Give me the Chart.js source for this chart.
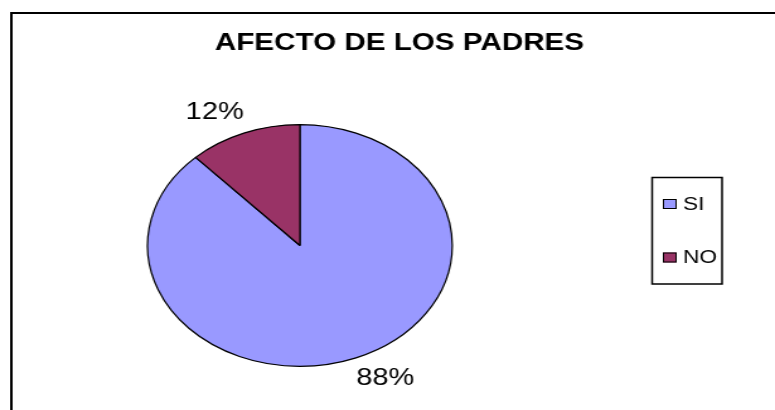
<!DOCTYPE html>
<html>
<head>
<meta charset="utf-8">
<script src="https://cdn.jsdelivr.net/npm/chart.js@4.4.0/dist/chart.umd.min.js"></script>
<style>
  html, body { margin: 0; padding: 0; background: #fff; overflow: hidden; }
  #chart { display: block; width: 775px; height: 410px; }
</style>
</head>
<body>
<canvas id="chart" width="615" height="410" style="width:775px;height:410px"></canvas>
<script>
const title = "AFECTO DE LOS PADRES";
const categories = ["SI", "NO"];
const values = [88, 12];
const colors = ["#9999FF", "#993366"];

// the original picture is stretched sideways; draw narrow and let css widen it
const decorations = {
  id: "decorations",
  beforeDraw(chart) {
    const ctx = chart.ctx;
    ctx.save();
    ctx.fillStyle = "#fff";
    ctx.fillRect(0, 0, chart.width, chart.height);
    ctx.restore();
  },
  afterDraw(chart) {
    const ctx = chart.ctx;
    ctx.save();

    // outer frame: only top and left edges are inside the picture
    ctx.strokeStyle = "#000";
    ctx.lineWidth = 2;
    ctx.beginPath();
    ctx.moveTo(9, chart.height);
    ctx.lineTo(9, 13);
    ctx.lineTo(chart.width, 13);
    ctx.stroke();

    // title
    ctx.fillStyle = "#000";
    ctx.font = "bold 23.5px 'Liberation Sans', Arial, sans-serif";
    ctx.textAlign = "center";
    ctx.textBaseline = "middle";
    ctx.fillText(title, 317, 44);

    // percentage labels
    const meta = chart.getDatasetMeta(0);
    const total = values.reduce((a, b) => a + b, 0);
    ctx.font = "23px 'Liberation Sans', Arial, sans-serif";
    meta.data.forEach((arc, i) => {
      const mid = (arc.startAngle + arc.endAngle) / 2;
      const r = arc.outerRadius;
      const x = arc.x + Math.cos(mid) * r * 1.52;
      const y = arc.y + Math.sin(mid) * r * 1.185;
      ctx.fillText(Math.round(values[i] / total * 100) + "%", x, y);
    });

    // legend
    ctx.lineWidth = 1.5;
    ctx.strokeRect(517.5, 177.5, 55.5, 106.5);
    ctx.font = "18px 'Liberation Sans', Arial, sans-serif";
    ctx.textAlign = "left";
    categories.forEach((c, i) => {
      const cy = 204 + i * 53.5;
      ctx.fillStyle = colors[i];
      ctx.fillRect(526, cy - 5, 11, 10);
      ctx.lineWidth = 1;
      ctx.strokeStyle = "#000";
      ctx.strokeRect(526.5, cy - 4.5, 10, 9);
      ctx.fillStyle = "#000";
      ctx.fillText(c, 542, cy + 1);
    });

    ctx.restore();
  }
};

new Chart(document.getElementById("chart"), {
  type: "pie",
  data: {
    labels: categories,
    datasets: [{
      data: values,
      backgroundColor: colors,
      borderColor: "#000",
      borderWidth: 1.2
    }]
  },
  options: {
    responsive: false,
    devicePixelRatio: 1,
    animation: false,
    layout: { padding: { left: 116.5, right: 255.5, top: 124, bottom: 43 } },
    plugins: {
      legend: { display: false },
      title: { display: false },
      tooltip: { enabled: false }
    }
  },
  plugins: [decorations]
});
</script>
</body>
</html>
